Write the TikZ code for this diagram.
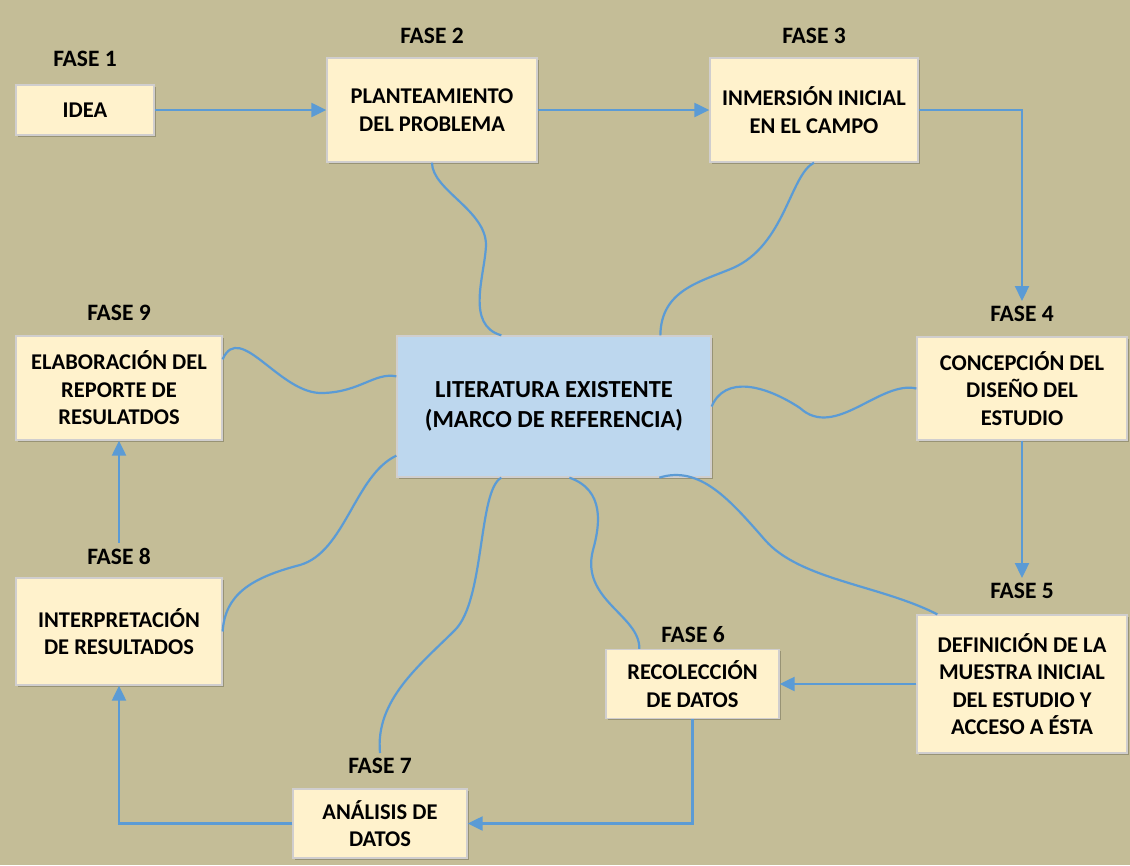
\documentclass[tikz,border=0pt]{standalone}
\usepackage{fontspec}
\setmainfont{Carlito}
\usetikzlibrary{arrows.meta,calc,shadows}
\definecolor{bg}{HTML}{C4BD97}
\definecolor{boxfill}{HTML}{FFF2CC}
\definecolor{cfill}{HTML}{BDD7EE}
\definecolor{edgegray}{HTML}{D0CECE}
\definecolor{lineblue}{HTML}{5B9BD5}
\tikzset{
  box/.style={draw=edgegray,line width=1.3pt,fill=boxfill,align=center,inner sep=0pt,
    font=\fontsize{22.5}{27.5}\selectfont\bfseries,
    drop shadow={shadow xshift=1.5pt,shadow yshift=-1.5pt,opacity=0.22,fill=black}},
  cbox/.style={box,fill=cfill,font=\fontsize{24.5}{30}\selectfont\bfseries},
  lbl/.style={font=\fontsize{23.5}{27}\selectfont\bfseries,inner sep=5pt},
  conn/.style={draw=lineblue,line width=2.2pt},
  arr/.style={conn,-{Triangle[length=15pt,width=14pt]}},
  wave/.style={draw=lineblue,line width=2.2pt}
}
\begin{document}
\begin{tikzpicture}[x=1pt,y=-1pt]
\fill[bg] (0,0) rectangle (1130,865);
\useasboundingbox (0,0) rectangle (1130,865);

% boxes
\node[box,minimum width=138pt,minimum height=50pt] (idea) at (85,110) {IDEA};
\node[box,minimum width=210pt,minimum height=104pt] (p2) at (432,110) {PLANTEAMIENTO\\DEL PROBLEMA};
\node[box,minimum width=208pt,minimum height=104pt] (p3) at (814,110) {INMERSIÓN INICIAL\\EN EL CAMPO};
\node[cbox,minimum width=314pt,minimum height=141pt] (c) at (554,406.5) {LITERATURA EXISTENTE\\(MARCO DE REFERENCIA)};
\node[box,minimum width=210pt,minimum height=103pt] (p4) at (1022,388.5) {CONCEPCIÓN DEL\\DISEÑO DEL\\ESTUDIO};
\node[box,minimum width=210pt,minimum height=138pt] (p5) at (1022,684) {DEFINICIÓN DE LA\\MUESTRA INICIAL\\DEL ESTUDIO Y\\ACCESO A ÉSTA};
\node[box,minimum width=173pt,minimum height=69pt] (p6) at (692.5,684) {RECOLECCIÓN\\DE DATOS};
\node[box,minimum width=174pt,minimum height=69pt] (p7) at (380,823.5) {ANÁLISIS DE\\DATOS};
\node[box,minimum width=206pt,minimum height=107pt] (p8) at (119,631.5) {INTERPRETACIÓN\\DE RESULTADOS};
\node[box,minimum width=206pt,minimum height=104pt] (p9) at (119,388) {ELABORACIÓN DEL\\REPORTE DE\\RESULATDOS};

% labels
\node[lbl] (f1) at (85,59) {FASE 1};
\node[lbl] (f2) at (432,35.5) {FASE 2};
\node[lbl] (f3) at (814,35.5) {FASE 3};
\node[lbl] (f4) at (1022,314) {FASE 4};
\node[lbl] (f5) at (1022,591) {FASE 5};
\node[lbl] (f6) at (693,634.5) {FASE 6};
\node[lbl] (f7) at (380,766) {FASE 7};
\node[lbl] (f8) at (119,556) {FASE 8};
\node[lbl] (f9) at (119,313) {FASE 9};

% arrows
\draw[arr] (idea.east) -- (p2.west);
\draw[arr] (p2.east) -- (p3.west);
\draw[arr] (p3.east) -| (f4.north);
\draw[arr] (p4.south) -- (f5.north);
\draw[arr] (p5.west) -- (p6.east);
\draw[arr] (p6.south) |- (p7.east);
\draw[arr] (p7.west) -| (p8.south);
\draw[arr] (f8.north) -- (p9.south);

% wavy links to the central box
\draw[wave] (p2.south) .. controls (432,190) and (486,210) .. (486,245)
  .. controls (485,275) and (465,325) .. ($(c.north west)+(105,0)$);
\draw[wave] (p3.south) .. controls (790,175) and (785,245) .. (733,268)
  .. controls (700,282) and (661,290) .. ($(c.north west)+(264,0)$);
\draw[wave] ($(p9.north east)+(0,24)$) .. controls (240,320) and (280,395) .. (323,393)
  .. controls (360,392) and (375,372) .. ($(c.north west)+(0,41)$);
\draw[wave] (c.east) .. controls (725,375) and (765,385) .. (800,408)
  .. controls (835,440) and (880,380) .. (p4.west);
\draw[wave] (p8.east) .. controls (225,595) and (250,578) .. (300,565)
  .. controls (345,552) and (355,475) .. ($(c.south west)+(0,-22)$);
\draw[wave] (f7.north) .. controls (375,700) and (420,665) .. (455,630)
  .. controls (485,600) and (478,490) .. ($(c.south west)+(105,0)$);
\draw[wave] ($(c.south west)+(173,0)$) .. controls (605,490) and (600,525) .. (593,550)
  .. controls (580,600) and (640,615) .. ($(p6.north west)+(34,0)$);
\draw[wave] ($(c.south west)+(263,0)$) .. controls (700,465) and (730,500) .. (765,540)
  .. controls (800,580) and (880,585) .. ($(p5.north west)+(21,0)$);
\end{tikzpicture}
\end{document}
